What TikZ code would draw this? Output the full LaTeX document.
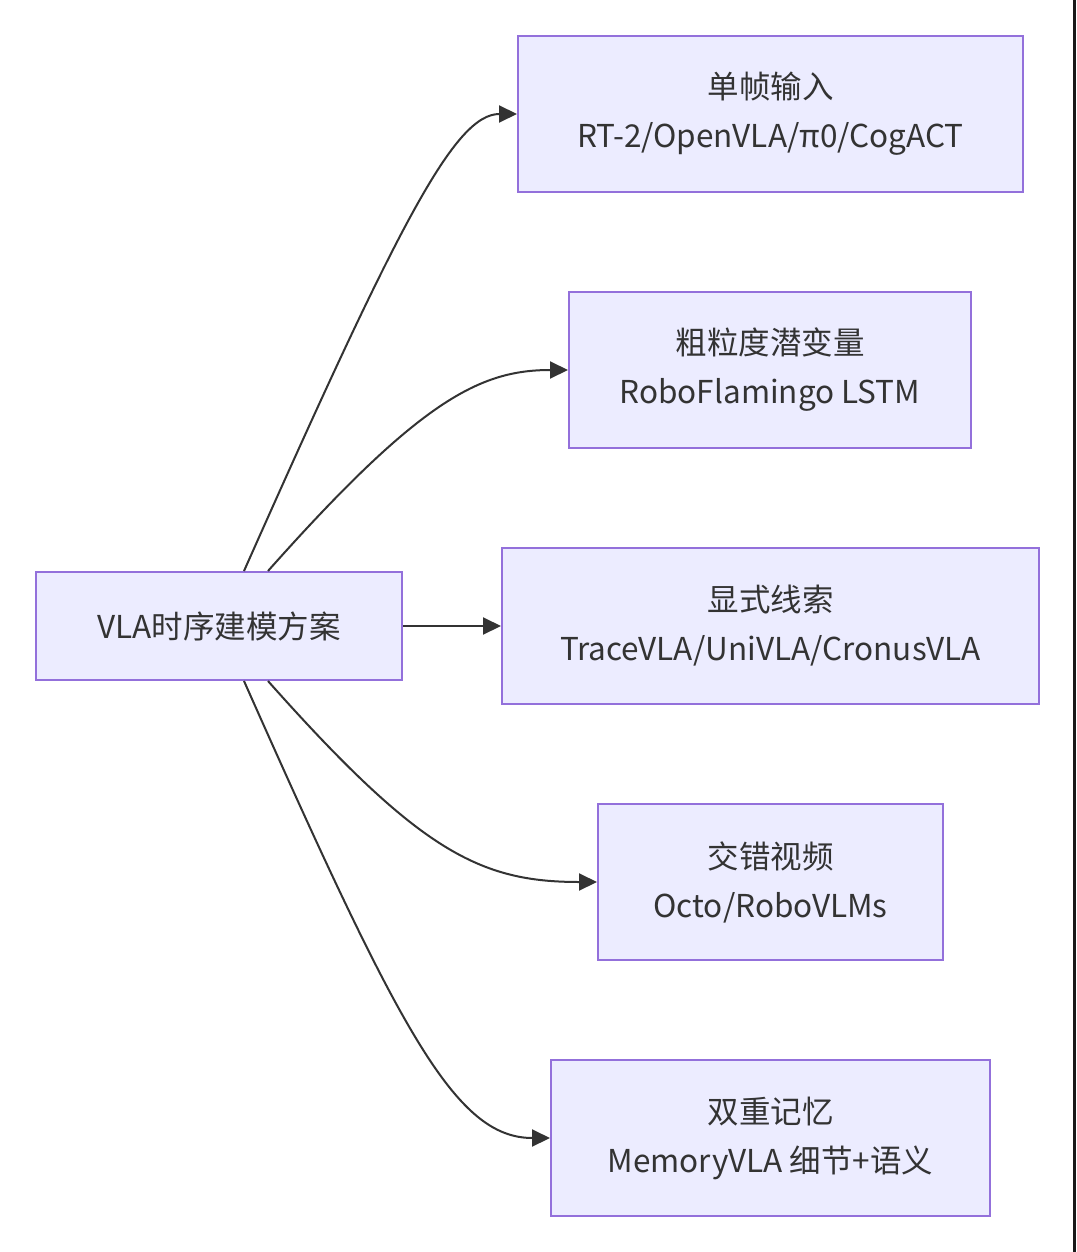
\documentclass[tikz,border=0pt]{standalone}
\usepackage{fontspec}
\setmainfont{Noto Sans CJK SC}
\usetikzlibrary{arrows.meta}
\definecolor{boxfill}{HTML}{ECECFF}
\definecolor{boxline}{HTML}{9370DB}
\definecolor{ink}{HTML}{333333}
\begin{document}
\begin{tikzpicture}[x=1pt,y=-1pt,
  box/.style={draw=boxline,fill=boxfill,line width=2pt,inner sep=0pt,
    text=ink,align=center,font=\fontsize{31.5}{49}\selectfont},
  conn/.style={draw=ink,line width=2pt,-{Triangle[length=18pt,width=17pt]}}]
\useasboundingbox (0,0) rectangle (1076,1252);
\fill[white] (0,0) rectangle (1076,1252);
\fill[black!90] (1073,0) rectangle (1076,1252);
\node[box,minimum width=366pt,minimum height=108pt] (root) at (219,626) {VLA时序建模方案};
\node[box,minimum width=505pt,minimum height=156pt] (b1) at (770.5,114) {单帧输入\\RT-2/OpenVLA/π0/CogACT};
\node[box,minimum width=402pt,minimum height=156pt] (b2) at (770,370) {粗粒度潜变量\\RoboFlamingo LSTM};
\node[box,minimum width=537pt,minimum height=156pt] (b3) at (770.5,626) {显式线索\\TraceVLA/UniVLA/CronusVLA};
\node[box,minimum width=345pt,minimum height=156pt] (b4) at (770.5,882) {交错视频\\Octo/RoboVLMs};
\node[box,minimum width=439pt,minimum height=156pt] (b5) at (770.5,1138) {双重记忆\\MemoryVLA 细节+语义};
\coordinate (t1) at ([xshift=25pt]root.north);
\coordinate (t2) at ([xshift=49pt]root.north);
\coordinate (s1) at ([xshift=25pt]root.south);
\coordinate (s2) at ([xshift=49pt]root.south);
\draw[conn] (t1) .. controls (400,220) and (455,114) .. (b1.west);
\draw[conn] (t2) .. controls (420,400) and (480,370) .. (b2.west);
\draw[conn] (root.east) -- (b3.west);
\draw[conn] (s2) .. controls (420,852) and (480,882) .. (b4.west);
\draw[conn] (s1) .. controls (400,1032) and (455,1138) .. (b5.west);
\end{tikzpicture}
\end{document}
